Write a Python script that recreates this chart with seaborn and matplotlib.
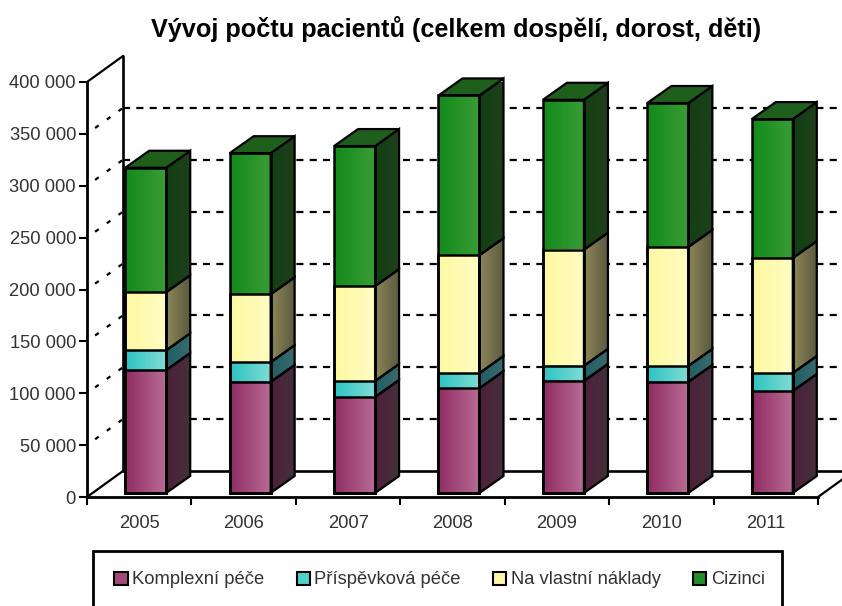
import matplotlib
matplotlib.use("Agg")
import matplotlib.pyplot as plt
import matplotlib.transforms as mtrans
from matplotlib.colors import LinearSegmentedColormap
from matplotlib.patches import Patch, Polygon, Rectangle
import numpy as np
import pandas as pd
import seaborn as sns

years = ["2005", "2006", "2007", "2008", "2009", "2010", "2011"]
komplexni = [118500, 107000, 92500, 101000, 108000, 107000, 98300]
prispevkova = [19000, 19000, 15400, 14500, 14500, 15400, 17300]
naklady = [56000, 65500, 91500, 113700, 112000, 114700, 110800]
cizinci = [120000, 136000, 135000, 154000, 144500, 138800, 134000]

series_names = ["Komplexní péče", "Příspěvková péče", "Na vlastní náklady", "Cizinci"]
series_values = [komplexni, prispevkova, naklady, cizinci]
front_colors = [("#8f2c62", "#b86c94"), ("#2cc3c3", "#80dcd4"),
                ("#fdf9a0", "#fffcc4"), ("#128a1a", "#3a9c36")]
side_colors = [("#4e1f3a", "#43303a"), ("#1f5f66", "#3a6a6c"),
               ("#8c8658", "#5c5a40"), ("#123f12", "#1f3f1c")]
legend_colors = ["#a04a78", "#50d0cc", "#fef6a8", "#228f26"]
top_color = "#1f5f1c"
y_ticks = [0, 50000, 100000, 150000, 200000, 250000, 300000, 350000, 400000]

W, H = 842, 606
sns.set_theme(style="white")
plt.rcParams["font.family"] = ["Liberation Sans", "DejaVu Sans"]
label_size = 13.2

fig = plt.figure(figsize=(W / 100, H / 100), dpi=100)
ax = fig.add_axes([87 / W, 1 - 497 / H, (818 - 87) / W, (497 - 82) / H])
ax.patch.set_alpha(0)

# pixel shifts of the fake 3D scene
bar_shift = ax.transData + mtrans.Affine2D().translate(6.5, 4)
wall_shift = ax.transData + mtrans.Affine2D().translate(36, 26)
px_x = 7 / (818 - 87)
px_y = 400000 / 415
depth_x, depth_y = 24 * px_x, 17 * px_y

df = pd.DataFrame(dict(zip(series_names, series_values)), index=years)
cum = df.cumsum(axis=1)
bottoms = cum.shift(1, axis=1).fillna(0)

# stacked look: cumulative bars overlaid, tallest first
for i in reversed(range(len(series_names))):
    name = series_names[i]
    before = len(ax.patches)
    sns.barplot(x=years, y=cum[name].values, ax=ax, width=41 / (731 / 7),
                facecolor="none", edgecolor="black", linewidth=1.8, zorder=6)
    cmap = LinearSegmentedColormap.from_list(name, front_colors[i])
    side_cmap = LinearSegmentedColormap.from_list(name + "_side", side_colors[i])
    for j, bar in enumerate(ax.patches[before:]):
        bar.set_transform(bar_shift)
        bar.set_clip_on(False)
        x0, w, h = bar.get_x(), bar.get_width(), bar.get_height()
        ax.imshow(np.linspace(0, 1, 64).reshape(1, -1), cmap=cmap, aspect="auto",
                  extent=(x0, x0 + w, 0, h), zorder=3 + (3 - i) * 0.1,
                  transform=bar_shift, clip_on=False)
        # side face of this segment
        xr = x0 + w
        b, t = bottoms[name].values[j], cum[name].values[j]
        side = Polygon([(xr, b), (xr + depth_x, b + depth_y),
                        (xr + depth_x, t + depth_y), (xr, t)], closed=True,
                       facecolor="none", edgecolor="black", linewidth=1.6,
                       transform=bar_shift, clip_on=False, zorder=5)
        ax.add_patch(side)
        im = ax.imshow(np.linspace(0, 1, 32).reshape(1, -1), cmap=side_cmap, aspect="auto",
                       extent=(xr, xr + depth_x, b, t + depth_y), zorder=4,
                       transform=bar_shift)
        im.set_clip_path(side)
        if i == 3:
            ax.add_patch(Polygon([(x0, t), (xr, t), (xr + depth_x, t + depth_y),
                                  (x0 + depth_x, t + depth_y)], closed=True,
                                 facecolor=top_color, edgecolor="black", linewidth=1.6,
                                 transform=bar_shift, clip_on=False, zorder=5))

ax.set_xlim(-0.5, 6.5)
ax.set_ylim(0, 400000)

# back wall, floor and dashed grid
ax.hlines(y_ticks[1:-1], -0.5, 6.5, colors="black", linewidth=1.6,
          linestyles=(0, (3.2, 2.8)), transform=wall_shift, zorder=1, clip_on=False)
ax.plot([-0.5, -0.5], [0, 400000], color="black", lw=1.9, transform=wall_shift, clip_on=False, zorder=1)
ax.plot([-0.5, 6.5], [0, 0], color="black", lw=1.9, transform=wall_shift, clip_on=False, zorder=1)
for v in y_ticks:
    ax.plot([-0.5, -0.5 + 36 * px_x], [v, v + 26 * px_y], color="black", lw=1.6,
            linestyle="-" if v in (0, 400000) else (2, (2, 4.5)), clip_on=False, zorder=1)
ax.plot([6.5, 6.5 + 36 * px_x], [0, 26 * px_y], color="black", lw=1.6, clip_on=False, zorder=1)

sns.despine(ax=ax, top=True, right=True)
for side_name in ("left", "bottom"):
    ax.spines[side_name].set_linewidth(2)
    ax.spines[side_name].set_color("black")

ax.set_yticks(y_ticks)
ax.set_yticklabels([f"{v:,}".replace(",", " ") for v in y_ticks], fontsize=label_size, color="#333333")
ax.set_xticks(range(len(years)))
ax.set_xticklabels(years, fontsize=label_size, color="#333333")
ax.set_xticks(np.arange(-0.5, 7), minor=True)
ax.tick_params(axis="x", which="major", length=0, pad=13)
ax.tick_params(axis="x", which="minor", bottom=True, length=6, width=1.5, color="black")
ax.tick_params(axis="y", left=True, length=6, width=1.5, color="black", pad=2)
ax.set_xlabel("")
ax.set_ylabel("")

fig.text(456.5 / W, 1 - 29 / H, "Vývoj počtu pacientů (celkem dospělí, dorost, děti)",
         ha="center", va="center", fontsize=18.2, fontweight="bold", color="black")

# legend box runs off the bottom edge of the picture
fig.add_artist(Rectangle((93 / W, -10 / H), (782 - 93) / W, (H - 551 + 10) / H,
                         transform=fig.transFigure, facecolor="white", edgecolor="black", linewidth=2))
handles = [Patch(facecolor=legend_colors[i], edgecolor="black", linewidth=1.5, label=series_names[i])
           for i in range(4)]
fig.legend(handles=handles, loc="center left", bbox_to_anchor=(109 / W, 1 - 580 / H),
           bbox_transform=fig.transFigure, ncol=4, frameon=False,
           fontsize=label_size, borderaxespad=0, borderpad=0.3,
           handlelength=0.72, handleheight=0.72, handletextpad=0.25, columnspacing=1.75,
           labelcolor="#333333")

fig.savefig("out.png", dpi=100)
